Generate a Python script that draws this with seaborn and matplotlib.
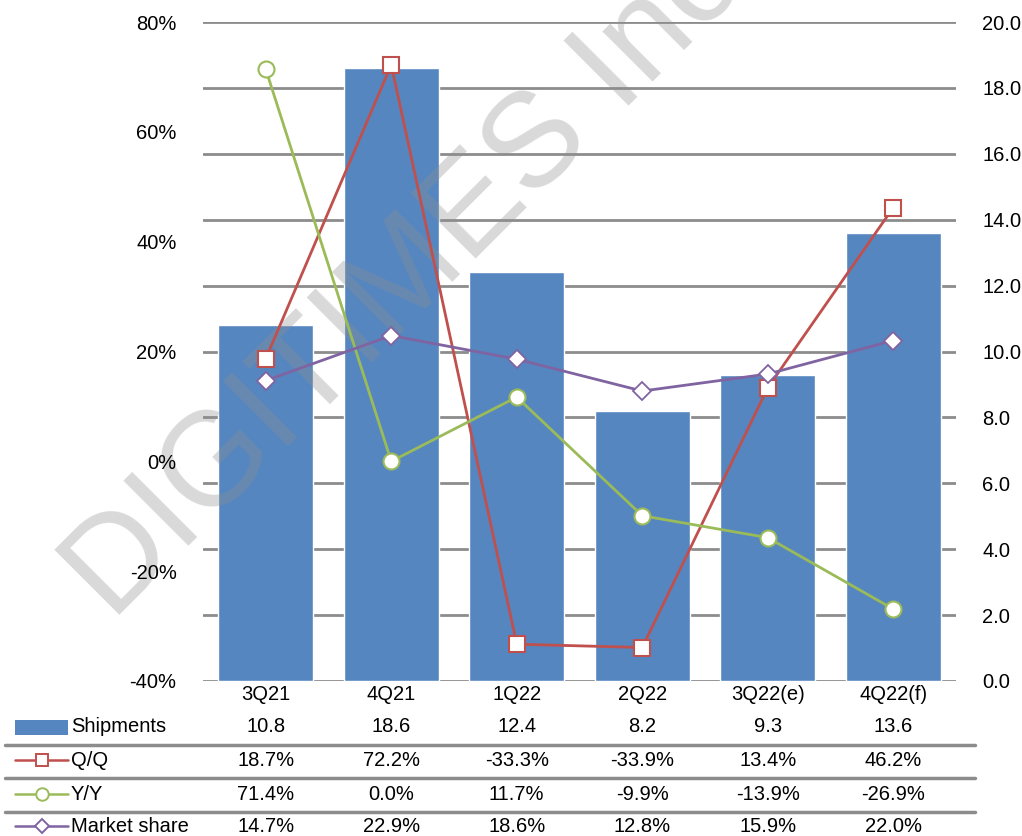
import numpy as np
import matplotlib
matplotlib.use("Agg")
import matplotlib.pyplot as plt
import matplotlib.transforms as mtransforms
from matplotlib.lines import Line2D
from matplotlib.patches import Rectangle
import seaborn as sns

quarters = ["3Q21", "4Q21", "1Q22", "2Q22", "3Q22(e)", "4Q22(f)"]
shipments = [10.8, 18.6, 12.4, 8.2, 9.3, 13.6]
qq = [18.7, 72.2, -33.3, -33.9, 13.4, 46.2]
yy = [71.4, 0.0, 11.7, -9.9, -13.9, -26.9]
share = [14.7, 22.9, 18.6, 12.8, 15.9, 22.0]
left_ticks = [-40, -20, 0, 20, 40, 60, 80]
right_ticks = [0, 2, 4, 6, 8, 10, 12, 14, 16, 18, 20]

BLUE = "#5586C0"
RED = "#C0504D"
GREEN = "#9BBB59"
PURPLE = "#8064A2"
GRID = "#8c8c8c"
FS = 14.5

sns.set_theme(style="white")
plt.rcParams["font.family"] = ["Liberation Sans", "DejaVu Sans"]
plt.rcParams["font.size"] = FS

W, H = 1022, 836
fig = plt.figure(figsize=(W / 100, H / 100), dpi=100)
ax = fig.add_axes([203 / W, 1 - 681 / H, (956 - 203) / W, (681 - 22) / H])

# Bars on primary axis (right-hand scale)
sns.barplot(x=quarters, y=shipments, ax=ax, color=BLUE, saturation=1, width=0.76, zorder=2)
ax.set_ylim(0, 20)
ax.set_xlim(-0.5, len(quarters) - 0.5)
ax.set_yticks(right_ticks)
ax.set_yticklabels([f"{v:.1f}" for v in right_ticks])
ax.yaxis.grid(True, color=GRID, lw=2)
ax.set_axisbelow(True)
ax.set_xlabel("")
ax.set_ylabel("")
for s in ax.spines.values():
    s.set_visible(False)

# watermark
ax.text(112 / W, 1 - 622 / H, "DIGITIMES Inc.", transform=fig.transFigure, rotation=45,
        fontsize=96, color="#8f8f8f", alpha=0.34, ha="left", va="baseline",
        rotation_mode="anchor", zorder=5, clip_on=False,
        family=["Liberation Sans", "DejaVu Sans"])

# Lines on twin axis (left-hand percentage scale)
ax2 = ax.twinx()
xpos = np.arange(len(quarters))
sns.lineplot(x=xpos, y=qq, ax=ax2, color=RED, lw=2.0, marker="s", markersize=12,
             markerfacecolor="white", markeredgecolor=RED, markeredgewidth=1.5)
sns.lineplot(x=xpos, y=yy, ax=ax2, color=GREEN, lw=2.0, marker="o", markersize=11.5,
             markerfacecolor="white", markeredgecolor=GREEN, markeredgewidth=1.5)
sns.lineplot(x=xpos, y=share, ax=ax2, color=PURPLE, lw=2.0, marker="D", markersize=9.5,
             markerfacecolor="white", markeredgecolor=PURPLE, markeredgewidth=1.3)
ax2.set_ylim(-40, 80)
ax2.set_yticks(left_ticks)
ax2.set_yticklabels([f"{v}%" for v in left_ticks])
ax2.grid(False)
ax2.set_ylabel("")
for s in ax2.spines.values():
    s.set_visible(False)

# place axes sides after twinx
ax.yaxis.tick_right()
ax2.yaxis.tick_left()
ax.tick_params(axis="y", length=0, pad=19, labelsize=FS, colors="black")
ax.tick_params(axis="x", length=0, pad=3, labelsize=FS, colors="black")
ax2.tick_params(axis="y", length=0, pad=19, labelsize=FS, colors="black")

# Data table beneath the chart
trans = mtransforms.blended_transform_factory(ax.transData, fig.transFigure)
rows = [
    ("Shipments", [f"{v:.1f}" for v in shipments], 727),
    ("Q/Q", [f"{v:.1f}%" for v in qq], 760),
    ("Y/Y", [f"{v:.1f}%" for v in yy], 794),
    ("Market share", [f"{v:.1f}%" for v in share], 826),
]
for label, vals, ypix in rows:
    yf = 1 - ypix / H
    fig.text(71 / W, yf, label, ha="left", va="center", fontsize=FS, color="black")
    for i, v in enumerate(vals):
        fig.text(i, yf, v, transform=trans, ha="center", va="center", fontsize=FS, color="black")

# legend keys
fig.patches.append(Rectangle((15 / W, 1 - 735 / H), 53 / W, 15 / H, transform=fig.transFigure,
                             facecolor=BLUE, edgecolor="none"))
keys = [(RED, "s", 9, 760), (GREEN, "o", 9, 794), (PURPLE, "D", 7.5, 826)]
for col, mk, ms, ypix in keys:
    yf = 1 - ypix / H
    fig.lines.append(Line2D([15 / W, 68 / W], [yf, yf], transform=fig.transFigure, color=col, lw=1.8))
    fig.lines.append(Line2D([41.5 / W], [yf], transform=fig.transFigure, color=col, lw=0,
                            marker=mk, markersize=ms, markerfacecolor="white",
                            markeredgecolor=col, markeredgewidth=1.4))

# separators
for ypix in [745, 778, 812]:
    yf = 1 - ypix / H
    fig.lines.append(Line2D([5 / W, 975 / W], [yf, yf], transform=fig.transFigure, color=GRID, lw=2.5))

fig.savefig("out.png", dpi=100)
